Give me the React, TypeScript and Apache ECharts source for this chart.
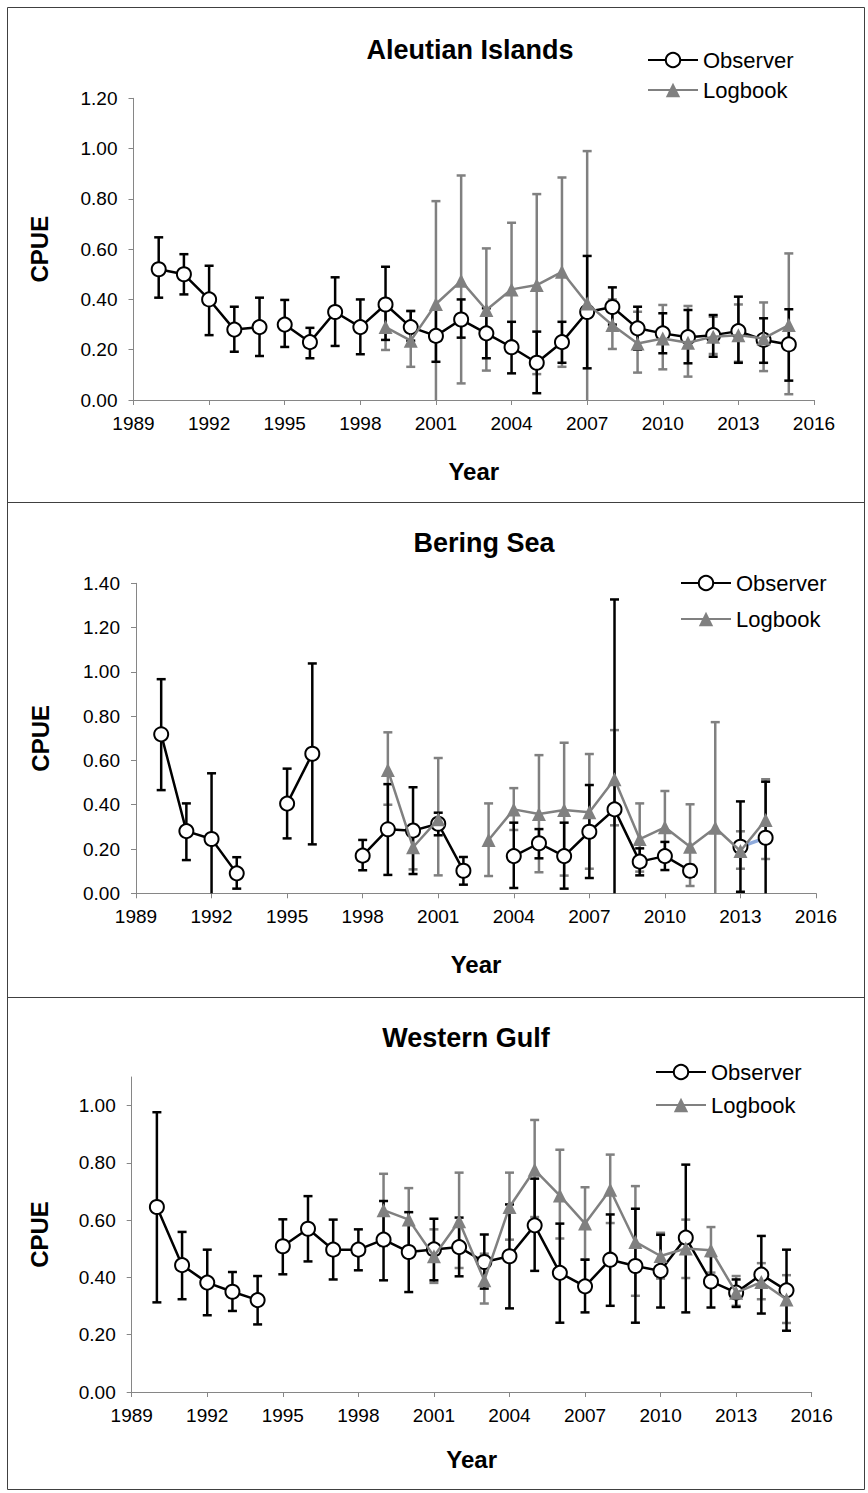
import React, { useEffect, useRef } from "react";
import * as echarts from "echarts";

// ---------------- DATA ----------------
const YEARS = [1990, 1991, 1992, 1993, 1994, 1995, 1996, 1997, 1998, 1999, 2000, 2001, 2002, 2003, 2004, 2005, 2006, 2007, 2008, 2009, 2010, 2011, 2012, 2013, 2014, 2015];

// Aleutian Islands
const AI_OBS = [0.52, 0.5, 0.4, 0.28, 0.29, 0.3, 0.23, 0.35, 0.29, 0.38, 0.29, 0.255, 0.32, 0.265, 0.21, 0.148, 0.23, 0.35, 0.37, 0.285, 0.265, 0.25, 0.258, 0.274, 0.239, 0.221];
const AI_OBS_LO = [0.407, 0.42, 0.258, 0.192, 0.175, 0.211, 0.166, 0.215, 0.182, 0.239, 0.236, 0.152, 0.248, 0.166, 0.106, 0.027, 0.148, 0.126, 0.3, 0.2, 0.186, 0.146, 0.172, 0.148, 0.148, 0.077];
const AI_OBS_HI = [0.647, 0.58, 0.534, 0.371, 0.407, 0.398, 0.287, 0.488, 0.4, 0.53, 0.354, 0.362, 0.4, 0.365, 0.311, 0.272, 0.311, 0.573, 0.448, 0.371, 0.345, 0.358, 0.338, 0.411, 0.325, 0.361];
const AI_LOG = [null, null, null, null, null, null, null, null, null, 0.29, 0.236, 0.382, 0.474, 0.358, 0.44, 0.457, 0.51, 0.384, 0.298, 0.225, 0.245, 0.228, 0.252, 0.258, 0.245, 0.298];
const AI_LOG_LO = [null, null, null, null, null, null, null, null, null, 0.199, 0.132, -0.03, 0.066, 0.117, 0.19, 0.103, 0.132, -0.22, 0.203, 0.109, 0.122, 0.093, 0.183, 0.152, 0.115, 0.023];
const AI_LOG_HI = [null, null, null, null, null, null, null, null, null, 0.37, 0.354, 0.791, 0.893, 0.603, 0.705, 0.819, 0.885, 0.99, 0.4, 0.351, 0.378, 0.374, 0.331, 0.38, 0.388, 0.583];
const AI_OBS_BREAKS = [1994];

// Bering Sea
const BS_OBS = [0.718, 0.281, 0.245, 0.09, null, 0.405, 0.63, null, 0.17, 0.289, 0.283, 0.314, 0.102, null, 0.168, 0.226, 0.168, 0.278, 0.379, 0.143, 0.168, 0.102, null, 0.21, 0.251, null];
const BS_OBS_LO = [0.466, 0.15, -0.052, 0.021, null, 0.248, 0.221, null, 0.104, 0.083, 0.087, 0.262, 0.039, null, 0.024, 0.158, 0.021, 0.069, -0.57, 0.081, 0.105, 0.075, null, 0.007, -0.01, null];
const BS_OBS_HI = [0.967, 0.406, 0.542, 0.163, null, 0.563, 1.038, null, 0.241, 0.493, 0.479, 0.364, 0.164, null, 0.319, 0.29, 0.319, 0.489, 1.327, 0.203, 0.232, 0.128, null, 0.415, 0.504, null];
const BS_LOG = [null, null, null, null, null, null, null, null, null, 0.557, 0.208, 0.334, null, 0.241, 0.379, 0.358, 0.376, 0.366, 0.515, 0.245, 0.298, 0.21, 0.296, 0.191, 0.331, null];
const BS_LOG_LO = [null, null, null, null, null, null, null, null, null, 0.4, 0.108, 0.081, null, 0.078, 0.286, 0.095, 0.08, 0.111, 0.307, 0.098, 0.143, 0.033, -0.18, 0.111, 0.155, null];
const BS_LOG_HI = [null, null, null, null, null, null, null, null, null, 0.727, 0.31, 0.611, null, 0.406, 0.475, 0.624, 0.68, 0.629, 0.737, 0.406, 0.462, 0.402, 0.773, 0.28, 0.515, null];
const BS_OBS_BREAKS = [2013];
const BS_BLUE_YEARS = [2013, 2014];

// Western Gulf
const WG_OBS = [0.646, 0.443, 0.382, 0.35, 0.321, 0.509, 0.57, 0.497, 0.497, 0.532, 0.489, 0.498, 0.506, 0.454, 0.474, 0.582, 0.416, 0.369, 0.462, 0.44, 0.423, 0.539, 0.386, 0.347, 0.41, 0.355];
const WG_OBS_LO = [0.313, 0.324, 0.268, 0.283, 0.236, 0.411, 0.456, 0.393, 0.425, 0.39, 0.349, 0.39, 0.404, 0.361, 0.292, 0.423, 0.242, 0.278, 0.301, 0.242, 0.295, 0.278, 0.295, 0.297, 0.274, 0.214];
const WG_OBS_HI = [0.977, 0.559, 0.497, 0.419, 0.405, 0.603, 0.684, 0.602, 0.568, 0.667, 0.628, 0.605, 0.609, 0.55, 0.655, 0.745, 0.588, 0.462, 0.62, 0.64, 0.549, 0.794, 0.475, 0.393, 0.545, 0.497];
const WG_LOG = [null, null, null, null, null, null, null, null, null, 0.635, 0.602, 0.474, 0.596, 0.39, 0.646, 0.776, 0.686, 0.588, 0.706, 0.524, 0.475, 0.501, 0.495, 0.347, 0.384, 0.323];
const WG_LOG_LO = [null, null, null, null, null, null, null, null, null, 0.51, 0.49, 0.381, 0.433, 0.309, 0.532, 0.611, 0.536, 0.463, 0.59, 0.336, 0.396, 0.398, 0.417, 0.301, 0.324, 0.241];
const WG_LOG_HI = [null, null, null, null, null, null, null, null, null, 0.762, 0.712, 0.568, 0.766, 0.483, 0.766, 0.95, 0.846, 0.715, 0.829, 0.719, 0.556, 0.602, 0.576, 0.405, 0.45, 0.408];
const WG_OBS_BREAKS = [1994];

const Y_TICKS_AI = [0, 0.2, 0.4, 0.6, 0.8, 1.0, 1.2];
const Y_TICKS_BS = [0, 0.2, 0.4, 0.6, 0.8, 1.0, 1.2, 1.4];
const Y_TICKS_WG = [0, 0.2, 0.4, 0.6, 0.8, 1.0];

// ---------------- STYLE / LAYOUT ----------------
const FONT = "'Liberation Sans', Arial, sans-serif";
const OBS_COLOR = "#000000";
const LOG_COLOR = "#808080";
const BLUE = "#8eaadb";
const AXIS_COLOR = "#868686";

type Arr = (number | null)[];
type Panel = {
  title: string;
  obs: Arr; obsLo: Arr; obsHi: Arr;
  log: Arr; logLo: Arr; logHi: Arr;
  breaks: number[];
  yTicks: number[]; yMax: number;
  grid: { left: number; top: number; width: number; height: number };
  titlePos: [number, number];
  legend: { left: number; top: number; gap: number };
  cpueGap: number; yearGap: number;
  blue?: number[];
};

const PANELS: Panel[] = [
  {
    title: "Aleutian Islands",
    obs: AI_OBS, obsLo: AI_OBS_LO, obsHi: AI_OBS_HI, log: AI_LOG, logLo: AI_LOG_LO, logHi: AI_LOG_HI,
    breaks: AI_OBS_BREAKS,
    yTicks: Y_TICKS_AI, yMax: 1.2,
    grid: { left: 133.5, top: 98.3, width: 680.5, height: 301.7 },
    titlePos: [470, 50],
    legend: { left: 647, top: 49, gap: 8 },
    cpueGap: 82, yearGap: 59,
  },
  {
    title: "Bering Sea",
    obs: BS_OBS, obsLo: BS_OBS_LO, obsHi: BS_OBS_HI, log: BS_LOG, logLo: BS_LOG_LO, logHi: BS_LOG_HI,
    breaks: BS_OBS_BREAKS,
    yTicks: Y_TICKS_BS, yMax: 1.4,
    grid: { left: 136, top: 583.3, width: 680, height: 310 },
    titlePos: [484, 543],
    legend: { left: 680, top: 572, gap: 14 },
    cpueGap: 84, yearGap: 59,
    blue: BS_BLUE_YEARS,
  },
  {
    title: "Western Gulf",
    obs: WG_OBS, obsLo: WG_OBS_LO, obsHi: WG_OBS_HI, log: WG_LOG, logLo: WG_LOG_LO, logHi: WG_LOG_HI,
    breaks: WG_OBS_BREAKS,
    yTicks: Y_TICKS_WG, yMax: 1.1,
    grid: { left: 131.7, top: 1077, width: 680, height: 315 },
    titlePos: [466, 1038],
    legend: { left: 655, top: 1061, gap: 11 },
    cpueGap: 80, yearGap: 55,
  },
];

function errRenderer(color: string, width: number) {
  return (_params: any, api: any) => {
    const x = api.value(0);
    const lo = api.value(1);
    const hi = api.value(2);
    const top = api.coord([x, hi]);
    const bot = api.coord([x, lo < 0 ? 0 : lo]);
    const cap = 4.5;
    const style = { stroke: color, lineWidth: width };
    const children: any[] = [
      { type: "line", shape: { x1: top[0], y1: top[1], x2: bot[0], y2: bot[1] }, style },
      { type: "line", shape: { x1: top[0] - cap, y1: top[1], x2: top[0] + cap, y2: top[1] }, style },
    ];
    if (lo >= 0) {
      children.push({ type: "line", shape: { x1: bot[0] - cap, y1: bot[1], x2: bot[0] + cap, y2: bot[1] }, style });
    }
    return { type: "group", children };
  };
}

function errData(vals: Arr, lo: Arr, hi: Arr) {
  const out: number[][] = [];
  YEARS.forEach((y, k) => {
    if (vals[k] != null && lo[k] != null && hi[k] != null) out.push([y, lo[k] as number, hi[k] as number]);
  });
  return out;
}

// split the year range into segments that end at each break year
function segments(breaks: number[]) {
  const segs: number[][] = [];
  let cur: number[] = [];
  YEARS.forEach((y) => {
    cur.push(y);
    if (breaks.includes(y)) {
      segs.push(cur);
      cur = [];
    }
  });
  if (cur.length) segs.push(cur);
  return segs;
}

function buildOption() {
  const grids: any[] = [];
  const xAxes: any[] = [];
  const yAxes: any[] = [];
  const series: any[] = [];
  const legends: any[] = [];
  const graphics: any[] = [];

  PANELS.forEach((p, i) => {
    grids.push({ ...p.grid, containLabel: false });
    xAxes.push({
      type: "value", gridIndex: i, min: 1989, max: 2016, interval: 3,
      name: "Year", nameLocation: "middle", nameGap: p.yearGap,
      nameTextStyle: { fontFamily: FONT, fontSize: 24, fontWeight: "bold", color: "#000" },
      axisLine: { show: true, lineStyle: { color: AXIS_COLOR, width: 1 } },
      axisTick: { show: true, length: 5, lineStyle: { color: AXIS_COLOR } },
      axisLabel: { fontFamily: FONT, fontSize: 19, color: "#000", margin: 14, formatter: (v: number) => String(v) },
      splitLine: { show: false },
    });
    yAxes.push({
      type: "value", gridIndex: i, min: 0, max: p.yMax, interval: 0.2,
      name: "CPUE", nameLocation: "middle", nameGap: p.cpueGap, nameRotate: 90,
      nameTextStyle: { fontFamily: FONT, fontSize: 24, fontWeight: "bold", color: "#000" },
      axisLine: { show: true, lineStyle: { color: AXIS_COLOR, width: 1 } },
      axisTick: { show: true, length: 5, lineStyle: { color: AXIS_COLOR }, customValues: p.yTicks },
      axisLabel: { fontFamily: FONT, fontSize: 19, color: "#000", margin: 16, customValues: p.yTicks, formatter: (v: number) => v.toFixed(2) },
      splitLine: { show: false },
    });

    // error bars
    series.push({
      type: "custom", xAxisIndex: i, yAxisIndex: i, z: 1, silent: true,
      renderItem: errRenderer(LOG_COLOR, 2.5),
      encode: { x: 0, y: [1, 2] },
      data: errData(p.log, p.logLo, p.logHi),
    });
    series.push({
      type: "custom", xAxisIndex: i, yAxisIndex: i, z: 2, silent: true,
      renderItem: errRenderer(OBS_COLOR, 2.5),
      encode: { x: 0, y: [1, 2] },
      data: errData(p.obs, p.obsLo, p.obsHi),
    });

    if (p.blue) {
      series.push({
        type: "line", xAxisIndex: i, yAxisIndex: i, z: 3, silent: true, showSymbol: false,
        lineStyle: { color: BLUE, width: 3.5 },
        data: p.blue.map((y) => [y, p.obs[YEARS.indexOf(y)]]),
      });
    }

    segments(p.breaks).forEach((seg) => {
      series.push({
        type: "line", name: "Observer", xAxisIndex: i, yAxisIndex: i, z: 4,
        symbol: "circle", symbolSize: 14,
        itemStyle: { color: "#ffffff", borderColor: OBS_COLOR, borderWidth: 2 },
        lineStyle: { color: OBS_COLOR, width: 2.5 },
        data: seg.map((y) => [y, p.obs[YEARS.indexOf(y)]]),
      });
    });

    series.push({
      type: "line", name: "Logbook", xAxisIndex: i, yAxisIndex: i, z: 5,
      symbol: "triangle", symbolSize: 14,
      itemStyle: { color: LOG_COLOR },
      lineStyle: { color: LOG_COLOR, width: 2.5 },
      data: YEARS.map((y, k) => [y, p.log[k]]),
    });

    legends.push({
      data: ["Observer", "Logbook"], orient: "vertical",
      left: p.legend.left, top: p.legend.top, itemGap: p.legend.gap,
      itemWidth: 50, itemHeight: 18, selectedMode: false, padding: 0,
      textStyle: { fontFamily: FONT, fontSize: 22, color: "#000" },
    });

    graphics.push({
      type: "text", x: p.titlePos[0], y: p.titlePos[1], silent: true,
      style: { text: p.title, fill: "#000", font: `bold 27px ${FONT}`, textAlign: "center", textVerticalAlign: "middle" },
    });
  });

  // panel frames
  const frame = { stroke: "#404040", lineWidth: 1 };
  graphics.push({ type: "rect", shape: { x: 7.5, y: 7.5, width: 857, height: 1482 }, style: { ...frame, fill: "none" }, silent: true });
  graphics.push({ type: "line", shape: { x1: 7.5, y1: 502.5, x2: 864.5, y2: 502.5 }, style: frame, silent: true });
  graphics.push({ type: "line", shape: { x1: 7.5, y1: 997.5, x2: 864.5, y2: 997.5 }, style: frame, silent: true });

  return {
    animation: false,
    backgroundColor: "#ffffff",
    textStyle: { fontFamily: FONT },
    grid: grids,
    xAxis: xAxes,
    yAxis: yAxes,
    legend: legends,
    series,
    graphic: graphics,
  };
}

export default function App() {
  const ref = useRef<HTMLDivElement>(null);
  useEffect(() => {
    if (!ref.current) return;
    const chart = echarts.init(ref.current, undefined, { renderer: "svg" });
    chart.setOption(buildOption() as any);
    return () => chart.dispose();
  }, []);
  return (
    <div
      ref={ref}
      style={{ position: "absolute", left: 0, top: 0, width: 868, height: 1493, background: "#fff" }}
    />
  );
}
